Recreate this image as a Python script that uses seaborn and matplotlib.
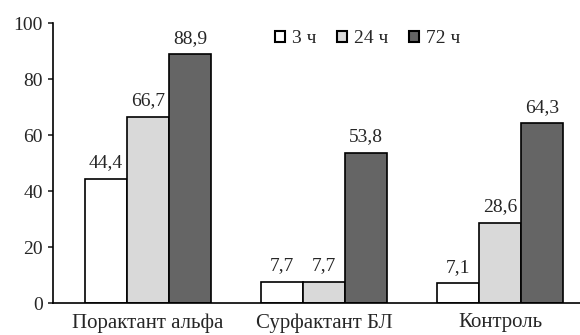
import numpy as np
import pandas as pd
import seaborn as sns
import matplotlib.pyplot as plt

groups = ["Порактант альфа", "Сурфактант БЛ", "Контроль"]
times = ["3 ч", "24 ч", "72 ч"]
vals_3h = [44.4, 7.7, 7.1]
vals_24h = [66.7, 7.7, 28.6]
vals_72h = [88.9, 53.8, 64.3]
colors = ["#ffffff", "#d9d9d9", "#656565"]

df = pd.DataFrame({
    "group": groups * 3,
    "time": [times[0]] * 3 + [times[1]] * 3 + [times[2]] * 3,
    "value": vals_3h + vals_24h + vals_72h,
})

sns.set_style("ticks")
plt.rcParams["font.family"] = ["Liberation Serif", "DejaVu Serif"]

fig = plt.figure(figsize=(5.8, 3.35), dpi=100)
ax = fig.add_axes([53 / 580, (335 - 303.3) / 335, 527 / 580, 280 / 335])

sns.barplot(data=df, x="group", y="value", hue="time", order=groups,
            hue_order=times, palette=colors, width=0.716, gap=0,
            edgecolor="black", linewidth=1.2, saturation=1, ax=ax)

for cont, vals in zip(ax.containers, [vals_3h, vals_24h, vals_72h]):
    ax.bar_label(cont, labels=[f"{v:.1f}".replace(".", ",") for v in vals],
                 padding=5.5, fontsize=14)

ax.set_xlim(-0.54, 2.455)
ax.set_ylim(0, 100)
ax.set_yticks([0, 20, 40, 60, 80, 100])
ax.set_xlabel("")
ax.set_ylabel("")
ax.tick_params(axis="x", length=0, pad=7, labelsize=15)
ax.tick_params(axis="y", length=3.6, width=1.2, labelsize=14, pad=3.6)
sns.despine(ax=ax)
for s in ["left", "bottom"]:
    ax.spines[s].set_linewidth(1.2)
    ax.spines[s].set_color("black")

leg = ax.legend(loc="center", bbox_to_anchor=(0.597, 0.944), ncol=3, frameon=False,
                handlelength=0.5, handleheight=0.5, handletextpad=0.35,
                columnspacing=1.1, fontsize=14)
for h in leg.legend_handles:
    h.set_linewidth(1.5)

fig.savefig("out.png", dpi=100)
